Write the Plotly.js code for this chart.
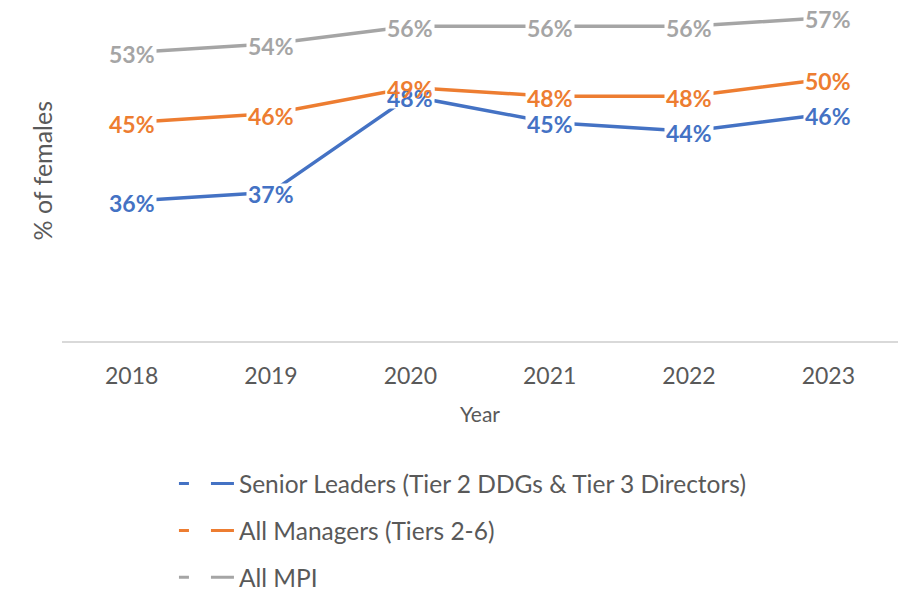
<!DOCTYPE html>
<html>
<head>
<meta charset="utf-8">
<script src="https://cdn.plot.ly/plotly-3.0.1.min.js"></script>
<style>html,body{margin:0;padding:0;background:#fff;}#chart{width:906px;height:592px;}</style>
</head>
<body>
<div id="chart"></div>
<script>
const years = ["2018", "2019", "2020", "2021", "2022", "2023"];
const seniorLeaders = [0.36, 0.37, 0.48, 0.45, 0.44, 0.46];
const allManagers = [0.45, 0.46, 0.49, 0.48, 0.48, 0.50];
const allMPI = [0.53, 0.54, 0.56, 0.56, 0.56, 0.57];
const seriesNames = ["Senior Leaders (Tier 2 DDGs & Tier 3 Directors)", "All Managers (Tiers 2-6)", "All MPI"];
const seriesColors = ["#4472C4", "#ED7D31", "#A5A5A5"];
const seriesValues = [seniorLeaders, allManagers, allMPI];
const yTitle = "% of females";

const FONT = "Lato, 'Open Sans', sans-serif";
const traces = [];
const annotations = [];
seriesValues.forEach((vals, i) => {
  traces.push({
    x: years, y: vals, type: 'scatter', mode: 'lines',
    line: {color: seriesColors[i], width: 3.5},
    showlegend: false, hoverinfo: 'skip'
  });
  traces.push({
    x: [null], y: [null], type: 'scatter', mode: 'lines',
    name: seriesNames[i], legendgroup: 'g' + i,
    line: {color: seriesColors[i], width: 3, dash: '10px,22px,30px'},
    showlegend: true
  });
});
// layer 1: empty white boxes that break the lines behind each label
seriesValues.forEach((vals, i) => {
  vals.forEach((v, j) => {
    annotations.push({
      x: j, y: v, xref: 'x', yref: 'y',
      text: '\u00a0', showarrow: false, width: 48, height: 20,
      bgcolor: 'white', borderpad: 0, yshift: -2,
      font: {family: FONT, size: 12, color: 'rgba(0,0,0,0)'}
    });
  });
});
// layer 2: the label texts themselves
seriesValues.forEach((vals, i) => {
  vals.forEach((v, j) => {
    annotations.push({
      x: j, y: v, xref: 'x', yref: 'y',
      text: Math.round(v * 100) + '%', showarrow: false,
      borderpad: 0, yshift: -2,
      font: {family: FONT, size: 23, color: seriesColors[i], weight: 'bold'}
    });
  });
});
annotations.push({
  text: yTitle, xref: 'paper', yref: 'paper', x: 0, y: 0.5,
  xanchor: 'center', yanchor: 'middle', xshift: -21, textangle: -90,
  showarrow: false, font: {family: FONT, size: 25, color: '#595959'}
});

const layout = {
  width: 906, height: 592,
  margin: {l: 62, r: 8, t: 0, b: 251, autoexpand: false},
  paper_bgcolor: '#fff', plot_bgcolor: '#fff',
  font: {family: FONT, color: '#595959'},
  showlegend: true,
  legend: {
    orientation: 'v', xref: 'container', yref: 'container',
    x: 0.192, xanchor: 'left', y: 0.221, yanchor: 'top',
    font: {family: FONT, size: 24.5, color: '#595959'},
    tracegroupgap: 12, itemwidth: 55, traceorder: 'grouped'
  },
  xaxis: {
    type: 'category', range: [-0.5, 5.5],
    showline: true, linecolor: '#D9D9D9', linewidth: 1.5,
    showgrid: false, zeroline: false, ticks: '',
    ticklabelstandoff: 14,
    tickfont: {family: FONT, size: 23, color: '#595959'},
    title: {text: 'Year', font: {family: FONT, size: 21, color: '#595959'}, standoff: 19}
  },
  yaxis: {
    range: [0.2, 0.59], showline: false, showgrid: false, zeroline: false,
    showticklabels: false, ticks: ''
  },
  annotations: annotations
};

Plotly.newPlot('chart', traces, layout, {displayModeBar: false, staticPlot: true});
</script>
</body>
</html>
